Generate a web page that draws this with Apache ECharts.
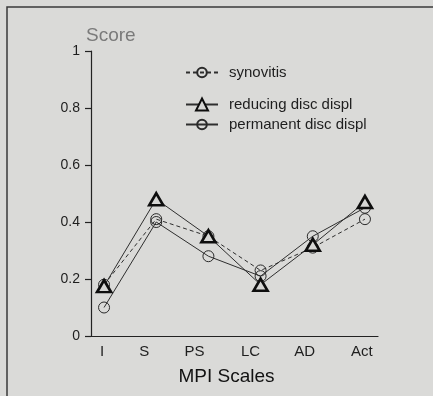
<!DOCTYPE html>
<html><head><meta charset="utf-8">
<script src="https://cdn.jsdelivr.net/npm/echarts@6/dist/echarts.min.js"></script>
<style>html,body{margin:0;padding:0;background:#dadad8}#c{width:433px;height:396px}</style>
</head><body><div id="c"></div>
<script>
const categories = ['I', 'S', 'PS', 'LC', 'AD', 'Act'];
const synovitis = [0.18, 0.41, 0.35, 0.23, 0.31, 0.41];
const reducing = [0.175, 0.48, 0.35, 0.18, 0.32, 0.47];
const permanent = [0.10, 0.40, 0.28, 0.21, 0.35, 0.45];
const seriesNames = ['synovitis', 'reducing disc displ', 'permanent disc displ'];
const yTicks = [0, 0.2, 0.4, 0.6, 0.8, 1];

// style only: horizontal nudge (px) of each category label, as in the original figure
const labelShift = [-2, -12, -14, -10, -8, -3];

const pts = arr => arr.map((v, i) => [i, v]);
const rich = {};
labelShift.forEach((s, i) => {
  rich['s' + i] = { fontSize: 15, color: '#1e1e1e', padding: s < 0 ? [0, -2 * s, 0, 0] : [0, 0, 0, 2 * s] };
});

const font = "'Liberation Sans', Arial, sans-serif";
const lineColor = '#2e2e2e';
const chart = echarts.init(document.getElementById('c'));
chart.setOption({
  backgroundColor: '#dadad8',
  animation: false,
  textStyle: { fontFamily: font },
  grid: { left: 91, right: 55, top: 51, bottom: 60 },
  graphic: [{
    type: 'rect', silent: true, z: -1,
    shape: { x: 7, y: 7, width: 470, height: 430 },
    style: { fill: 'none', stroke: '#3a3a3a', lineWidth: 1.5 }
  }],
  legend: seriesNames.map((n, k) => ({
    data: [n],
    left: 185,
    top: [65, 97, 117][k],
    padding: 0,
    itemWidth: 32,
    itemHeight: k === 1 ? 15 : 12,
    textStyle: { fontSize: 15, color: '#1e1e1e', fontFamily: font, padding: [0, 0, 0, 6] },
    selectedMode: false
  })),
  xAxis: {
    type: 'value', min: -0.25, max: 5.25,
    name: 'MPI Scales', nameLocation: 'middle', nameGap: 31,
    nameTextStyle: { fontSize: 19, color: '#111', padding: [0, 16, 0, 0] },
    axisLine: { show: true, onZero: false, lineStyle: { color: '#222', width: 1.2 } },
    axisTick: { show: false },
    splitLine: { show: false },
    axisLabel: {
      customValues: categories.map((c, i) => i),
      margin: 8,
      formatter: v => { const i = Math.round(v); return '{s' + i + '|' + categories[i] + '}'; },
      rich: rich
    }
  },
  yAxis: {
    type: 'value', min: 0, max: 1, interval: 0.2,
    name: 'Score', nameLocation: 'end', nameGap: 6,
    nameTextStyle: { fontSize: 19, color: '#7a7a7a', align: 'left', padding: [0, 0, 0, -5] },
    axisLine: { show: true, onZero: false, lineStyle: { color: '#222', width: 1.2 } },
    axisTick: { show: true, length: 6, lineStyle: { color: '#222', width: 1.2 } },
    splitLine: { show: false },
    axisLabel: {
      customValues: yTicks, margin: 11, fontSize: 14, color: '#1e1e1e',
      formatter: v => String(+v.toFixed(1))
    }
  },
  series: [
    {
      name: seriesNames[0], type: 'line', data: pts(synovitis), z: 3,
      symbol: 'circle', symbolSize: 11,
      lineStyle: { color: lineColor, width: 1, type: [4, 3] },
      itemStyle: { color: 'rgba(0,0,0,0)', borderColor: '#2a2a2a', borderWidth: 1 }
    },
    {
      name: seriesNames[1], type: 'line', data: pts(reducing), z: 4,
      symbol: 'triangle', symbolSize: [14, 12],
      lineStyle: { color: lineColor, width: 1 },
      itemStyle: { color: '#d6d6d4', borderColor: '#0e0e0e', borderWidth: 2.6 }
    },
    {
      name: seriesNames[2], type: 'line', data: pts(permanent), z: 2,
      symbol: 'circle', symbolSize: 11,
      lineStyle: { color: lineColor, width: 1 },
      itemStyle: { color: 'rgba(0,0,0,0)', borderColor: '#2a2a2a', borderWidth: 1 }
    }
  ]
});
</script></body></html>
